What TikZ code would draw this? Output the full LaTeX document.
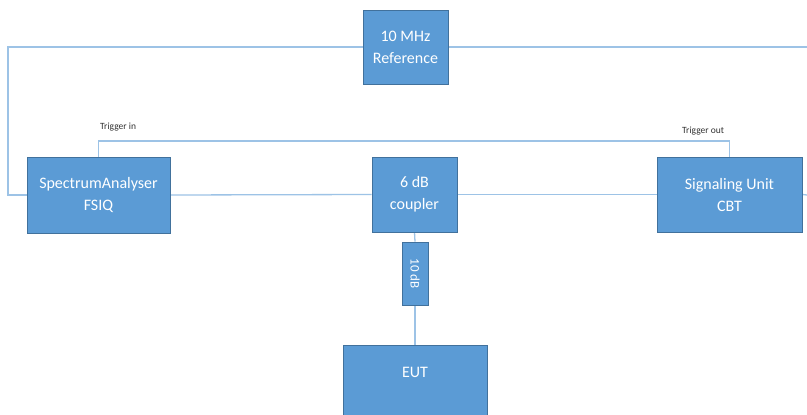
\documentclass[tikz,border=0pt]{standalone}
\usepackage{fontspec}
\setmainfont{Carlito}
\usetikzlibrary{backgrounds}
\definecolor{boxfill}{HTML}{5B9BD5}
\definecolor{boxline}{HTML}{41719C}
\definecolor{wire}{HTML}{9DC3E6}
\tikzset{
  blk/.style={draw=boxline, line width=0.8pt, fill=boxfill, text=white, font=\fontsize{16}{22}\selectfont, align=center, inner sep=0pt},
  wireline/.style={draw=wire, line width=1.3pt},
  small/.style={font=\fontsize{9.5}{11}\selectfont, text=black!80, inner sep=0pt}
}
\begin{document}
\begin{tikzpicture}[x=1pt,y=-1pt]
\useasboundingbox (0,0) rectangle (807,415);
\clip (0,0) rectangle (807,415);
% nodes
\node[blk, minimum width=85pt, minimum height=74pt] (ref) at (405.5,47) {10 MHz\\Reference};
\node[blk, minimum width=143pt, minimum height=76pt] (sa) at (98.5,195) {SpectrumAnalyser\\FSIQ};
\node[blk, minimum width=85pt, minimum height=75pt] (cpl) at (414.5,194.5) {6 dB\\coupler};
\node[blk, minimum width=145pt, minimum height=75pt] (su) at (729.5,194.5) {Signaling Unit\\CBT};
\node[blk, minimum width=26pt, minimum height=63pt, font=\fontsize{13}{15}\selectfont] (att) at (415,273.5) {\rotatebox{-90}{10 dB}};
\node[blk, minimum width=144pt, minimum height=90pt, anchor=north] (eut) at (415,345) {};
\node[text=white, font=\fontsize{16}{22}\selectfont, inner sep=0pt] (euttext) at (415,372) {EUT};
% free ends
\coordinate (lk) at (8,195);
\coordinate (rk) at (807,47);
\coordinate (rk2) at (807,195);
\coordinate (tr) at (415,141);
% labels
\node[small, anchor=west] (tin) at (100,127) {Trigger in};
\node[small, anchor=west] (tout) at (682,131) {Trigger out};
% connectors behind boxes
\begin{scope}[on background layer]
\fill[white] (0,0) rectangle (807,415);
\draw[wireline] (ref.west) -| (lk) -- (sa.west);
\draw[wireline] (ref.east) -- (rk);
\draw[wireline] (sa.east) -- (cpl.west);
\draw[wireline] (cpl.east) -- (su.west);
\draw[wireline] (su.east) -- (rk2);
\draw[wireline] (sa.north) |- (tr) -| (su.north);
\draw[wireline] (cpl.south) -- (att.north);
\draw[wireline] (att.south) -- (eut.north);
\end{scope}
\end{tikzpicture}
\end{document}
